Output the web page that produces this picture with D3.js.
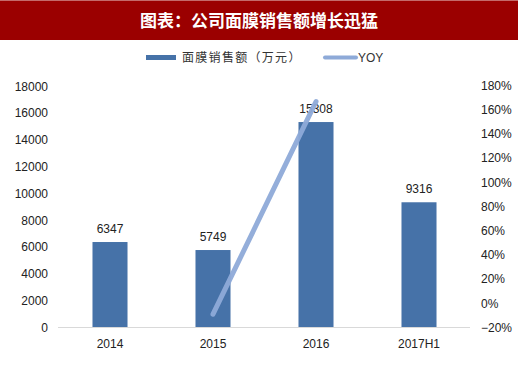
<!DOCTYPE html>
<html><head><meta charset="utf-8">
<script src="https://cdn.jsdelivr.net/npm/d3@7"></script>
<style>body{margin:0;background:#fff}svg{display:block}</style>
</head><body>
<svg id="c" width="520" height="367"></svg>
<script>
const categories = ["2014","2015","2016","2017H1"];
const sales = [6347, 5749, 15308, 9316];
const yoy = [null, -9.4, 166.3, null];
const leftTicks = [0,2000,4000,6000,8000,10000,12000,14000,16000,18000];
const rightTicks = [-20,0,20,40,60,80,100,120,140,160,180];
const title = "图表：公司面膜销售额增长迅猛";
const legendLabels = ["面膜销售额（万元）","YOY"];

const svg = d3.select("#c");
const font = "'Liberation Sans', Arial, sans-serif";
const barColor = "#4672a8", lineColor = "#8eaad8";

// title bar
svg.append("rect").attr("x",0).attr("y",0).attr("width",518).attr("height",40).attr("fill","#9b0000");
svg.append("rect").attr("x",0).attr("y",0).attr("width",518).attr("height",1).attr("fill","#c46a6a");
svg.append("text").attr("x",259).attr("y",27).attr("text-anchor","middle")
  .attr("fill","#fff").attr("font-size",17).attr("font-weight","bold")
  .attr("font-family","'Noto Sans CJK SC', sans-serif").text(title);

// legend
const lg = svg.append("g").attr("font-family","'Noto Sans CJK SC', sans-serif").attr("font-size",12).attr("fill","#333");
lg.append("rect").attr("x",146).attr("y",55).attr("width",30).attr("height",5).attr("fill",barColor);
lg.append("text").attr("x",182).attr("y",62).attr("letter-spacing",1.3).text(legendLabels[0]);
lg.append("line").attr("x1",325).attr("x2",356).attr("y1",57.5).attr("y2",57.5).attr("stroke",lineColor).attr("stroke-width",4).attr("stroke-linecap","round");
lg.append("text").attr("x",358).attr("y",62).attr("font-family",font).text(legendLabels[1]);

const x = d3.scaleBand().domain(categories).range([58.5,470.5]).paddingInner(0.66).paddingOuter(0.33);
const yL = d3.scaleLinear().domain([0,18000]).range([327,86]);
const yR = d3.scaleLinear().domain([-20,180]).range([327,85]);

// left axis
const la = svg.append("g").attr("transform","translate(48,0)")
  .call(d3.axisLeft(yL).tickValues(leftTicks).tickSize(0).tickPadding(0).tickFormat(d3.format("d")));
la.select(".domain").remove();
la.selectAll("text").attr("font-family",font).attr("font-size",12).attr("fill","#222").attr("dy","0.35em");

// right axis
const ra = svg.append("g").attr("transform","translate(481,0)")
  .call(d3.axisRight(yR).tickValues(rightTicks).tickSize(0).tickPadding(0).tickFormat(d => (d < 0 ? "\u2212" + (-d) : d) + "%"));
ra.select(".domain").remove();
ra.selectAll("text").attr("font-family",font).attr("font-size",12).attr("fill","#222").attr("dy","0.35em");

// bars
svg.append("g").selectAll("rect").data(categories).join("rect")
  .attr("x", d => x(d)).attr("width", x.bandwidth())
  .attr("y", (d,i) => yL(sales[i])).attr("height", (d,i) => yL(0) - yL(sales[i]))
  .attr("fill", barColor);

// baseline
svg.append("line").attr("x1",58).attr("x2",470).attr("y1",327.5).attr("y2",327.5).attr("stroke","#d9d9d9").attr("stroke-width",1);

// category labels
const xa = svg.append("g").attr("transform","translate(0,327)")
  .call(d3.axisBottom(x).tickSize(0).tickPadding(12));
xa.select(".domain").remove();
xa.selectAll("text").attr("font-family",font).attr("font-size",12).attr("fill","#222");

// data labels
svg.append("g").selectAll("text").data(categories).join("text")
  .attr("x", d => x(d) + x.bandwidth()/2).attr("y", (d,i) => yL(sales[i]) - 9)
  .attr("text-anchor","middle").attr("font-family",font).attr("font-size",12).attr("fill","#222")
  .text((d,i) => sales[i]);

// yoy line
const line = d3.line().defined(d => d.v !== null)
  .x(d => x(d.c) + x.bandwidth()/2).y(d => yR(d.v));
svg.append("path").datum(categories.map((c,i) => ({c, v: yoy[i]})))
  .attr("d", line).attr("fill","none").attr("stroke",lineColor).attr("stroke-width",5)
  .attr("stroke-linecap","round").attr("stroke-opacity",0.95);
</script>
</body></html>
